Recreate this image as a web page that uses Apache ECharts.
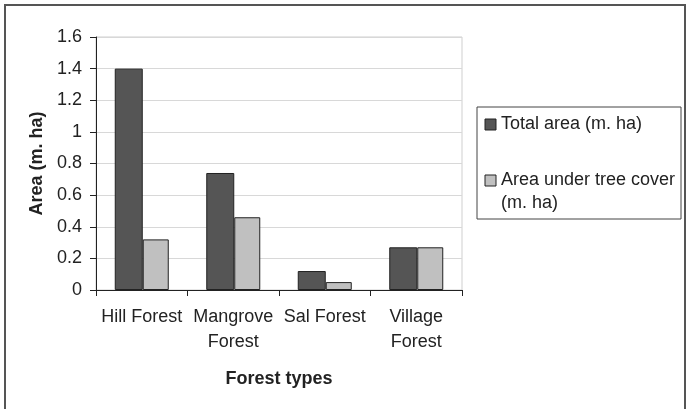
<!DOCTYPE html>
<html>
<head>
<meta charset="utf-8">
<script src="https://cdn.jsdelivr.net/npm/echarts@6/dist/echarts.min.js"></script>
<style>
html, body { margin: 0; padding: 0; background: #fff; }
#main { width: 689px; height: 409px; }
</style>
</head>
<body>
<div id="main"></div>
<script>
var myChart = echarts.init(document.getElementById('main'));

var categories = ['Hill Forest', 'Mangrove\nForest', 'Sal Forest', 'Village\nForest'];
var totalArea = [1.4, 0.74, 0.12, 0.27];
var treeCover = [0.32, 0.46, 0.05, 0.27];
var seriesNames = ['Total area (m. ha)', 'Area under tree cover\n(m. ha)'];
var seriesColors = ['#555555', '#c0c0c0'];

var font = 'Liberation Sans, Arial, sans-serif';
var txt = '#222';

// legend drawn by hand so the marker sits on the first text line
var legendItems = [];
seriesNames.forEach(function (name, i) {
    var y = 119 + i * 56;
    legendItems.push({
        type: 'rect',
        shape: { x: 485, y: y, width: 11, height: 11 },
        style: { fill: seriesColors[i], stroke: '#222', lineWidth: 1 }
    });
    legendItems.push({
        type: 'text',
        x: 501,
        y: y - 6,
        style: { text: name, font: '18px ' + font, fill: txt, lineHeight: 23 }
    });
});

option = {
    backgroundColor: '#fff',
    animation: false,
    grid: {
        left: 96,
        right: 227,
        top: 37,
        bottom: 119,
        show: true,
        borderColor: '#cfcfcf',
        borderWidth: 1
    },
    graphic: [
        {
            type: 'rect',
            shape: { x: 5, y: 5, width: 680, height: 420 },
            style: { fill: 'none', stroke: '#555', lineWidth: 2 }
        },
        {
            type: 'rect',
            shape: { x: 477, y: 107, width: 204, height: 112 },
            style: { fill: 'none', stroke: '#444', lineWidth: 1 }
        }
    ].concat(legendItems),
    xAxis: {
        type: 'category',
        data: categories,
        name: 'Forest types',
        nameLocation: 'middle',
        nameGap: 80,
        nameTextStyle: { fontFamily: font, fontSize: 18, fontWeight: 'bold', color: txt },
        axisLine: { lineStyle: { color: txt } },
        axisTick: { show: true, length: 6, lineStyle: { color: txt } },
        axisLabel: { interval: 0, hideOverlap: false, fontFamily: font, fontSize: 18, color: txt, margin: 15, lineHeight: 25 },
        splitLine: { show: false }
    },
    yAxis: {
        type: 'value',
        min: 0,
        max: 1.6,
        interval: 0.2,
        name: 'Area (m. ha)',
        nameLocation: 'middle',
        nameGap: 50,
        nameTextStyle: { fontFamily: font, fontSize: 18, fontWeight: 'bold', color: txt },
        axisLine: { show: true, lineStyle: { color: txt } },
        axisTick: { show: true, length: 6, lineStyle: { color: txt } },
        axisLabel: { fontFamily: font, fontSize: 18, color: txt, margin: 14 },
        splitLine: { lineStyle: { color: '#d8d8d8' } }
    },
    series: [
        {
            name: seriesNames[0],
            type: 'bar',
            data: totalArea,
            barWidth: 28,
            barGap: '0%',
            itemStyle: { color: seriesColors[0], borderColor: '#222', borderWidth: 1 }
        },
        {
            name: seriesNames[1],
            type: 'bar',
            data: treeCover,
            barWidth: 26,
            barGap: '0%',
            itemStyle: { color: seriesColors[1], borderColor: '#222', borderWidth: 1 }
        }
    ]
};
myChart.setOption(option);
</script>
</body>
</html>
